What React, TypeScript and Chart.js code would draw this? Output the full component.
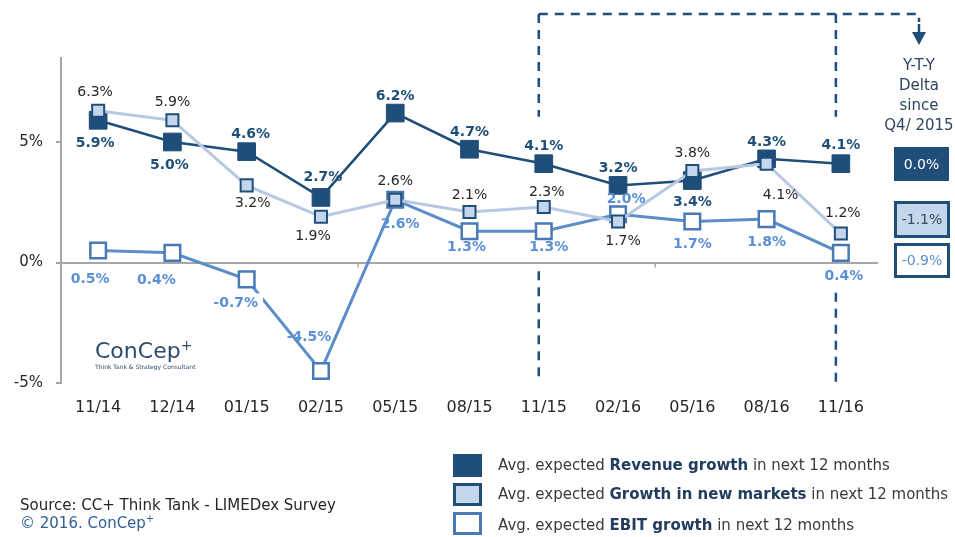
import React, { useEffect, useRef } from 'react';
import { Chart, registerables } from 'chart.js';

Chart.register(...registerables);

// ---------------- data ----------------
const categories = ['11/14', '12/14', '01/15', '02/15', '05/15', '08/15', '11/15', '02/16', '05/16', '08/16', '11/16'];
const revenueGrowth = [5.9, 5.0, 4.6, 2.7, 6.2, 4.7, 4.1, 3.2, 3.4, 4.3, 4.1];
const newMarketsGrowth = [6.3, 5.9, 3.2, 1.9, 2.6, 2.1, 2.3, 1.7, 3.8, 4.1, 1.2];
const ebitGrowth = [0.5, 0.4, -0.7, -4.5, 2.6, 1.3, 1.3, 2.0, 1.7, 1.8, 0.4];
const yTicks = [-5, 0, 5];
const deltaRevenue = '0.0%';
const deltaNewMarkets = '-1.1%';
const deltaEbit = '-0.9%';

// ---------------- label placement (styling) ----------------
const newMarketsLabelDy = [-18, -18, 18, 20, -18, -17, -15, 20, -18, 32, -20];
const newMarketsLabelDx = [-3, 0, 6, -8, 0, 0, 3, 5, 0, 14, 2];
const revenueLabelDy = [23, 23, -17, -20, -17, -17, -17, -17, 22, -17, -18];
const revenueLabelDx = [-3, -3, 4, 2, 0, 0, 0, 0, 0, 0, 0];
const ebitLabelDy = [29, 27, 24, -34, 25, 16, 16, -15, 23, 23, 23];
const ebitLabelDx = [-8, -16, -11, -12, 5, -3, 5, 8, 0, 0, 3];

const FONT = '"DejaVu Sans", sans-serif';
const NAVY = '#1F4E79';
const LIGHT_FILL = '#C5D6EC';
const LIGHT_LINE = '#B7C9E2';
const EBIT_LINE = '#5B8DC9';
const EBIT_BORDER = '#4A7AB5';
const EBIT_TEXT = '#5B8FD6';
const AXIS = '#A6A6A6';
const TEXT = '#262626';

const Y_MIN = -5;
const Y_MAX = 8.5;
const PX_PER_UNIT = 24.1;
const PLOT_BOTTOM = 383;
const PLOT_LEFT = 61;
const PLOT_RIGHT = 878;
const X_AXIS_H = 40;

export default function App() {
  const ref = useRef<HTMLCanvasElement>(null);

  useEffect(() => {
    const canvas = ref.current;
    if (!canvas) return;
    const plotTop = PLOT_BOTTOM - (Y_MAX - Y_MIN) * PX_PER_UNIT;

    const labelSpecs = [
      { dx: newMarketsLabelDx, dy: newMarketsLabelDy, font: `14px ${FONT}`, color: TEXT, bg: [] as number[] },
      { dx: revenueLabelDx, dy: revenueLabelDy, font: `bold 14px ${FONT}`, color: NAVY, bg: [] as number[] },
      { dx: ebitLabelDx, dy: ebitLabelDy, font: `bold 14px ${FONT}`, color: EBIT_TEXT, bg: [2] },
    ];

    const pointLabels = {
      id: 'pointLabels',
      afterDatasetsDraw(chart: any) {
        const ctx = chart.ctx;
        labelSpecs.forEach((spec, di) => {
          const meta = chart.getDatasetMeta(di);
          const data = chart.data.datasets[di].data as number[];
          meta.data.forEach((pt: any, j: number) => {
            const text = data[j].toFixed(1) + '%';
            const x = pt.x + spec.dx[j];
            const y = pt.y + spec.dy[j];
            ctx.save();
            ctx.font = spec.font;
            ctx.textAlign = 'center';
            ctx.textBaseline = 'middle';
            if (spec.bg.indexOf(j) >= 0) {
              const w = ctx.measureText(text).width;
              ctx.fillStyle = '#FFFFFF';
              ctx.fillRect(x - w / 2 - 5, y - 10, w + 10, 20);
            }
            ctx.fillStyle = spec.color;
            ctx.fillText(text, x, y);
            ctx.restore();
          });
        });
      },
    };

    const zeroTicks = {
      id: 'zeroTicks',
      beforeDatasetsDraw(chart: any) {
        const xs = chart.scales.x;
        const ys = chart.scales.y;
        const ctx = chart.ctx;
        const y0 = ys.getPixelForValue(0);
        ctx.save();
        ctx.strokeStyle = AXIS;
        ctx.lineWidth = 1.5;
        [4, 8].forEach((b) => {
          const x = (xs.getPixelForValue(b - 1) + xs.getPixelForValue(b)) / 2;
          ctx.beginPath();
          ctx.moveTo(x, y0);
          ctx.lineTo(x, y0 + 5);
          ctx.stroke();
        });
        ctx.restore();
      },
    };

    const yoyBracket = {
      id: 'yoyBracket',
      afterDraw(chart: any) {
        const xs = chart.scales.x;
        const ys = chart.scales.y;
        const ctx = chart.ctx;
        const topY = 14;
        const arrowX = 919;
        const idxs = [6, 10];
        ctx.save();
        ctx.strokeStyle = NAVY;
        ctx.lineWidth = 2.5;
        ctx.setLineDash([9, 7]);
        const xA = xs.getPixelForValue(idxs[0]) - 5;
        ctx.beginPath();
        ctx.moveTo(xA, topY);
        ctx.lineTo(arrowX, topY);
        ctx.lineTo(arrowX, topY + 8);
        ctx.stroke();
        idxs.forEach((i) => {
          const x = xs.getPixelForValue(i) - 5;
          const upperEnd = ys.getPixelForValue(revenueGrowth[i]) - 47;
          const lowerStart = ys.getPixelForValue(ebitGrowth[i]) + 40;
          ctx.beginPath();
          ctx.moveTo(x, topY);
          ctx.lineTo(x, upperEnd);
          ctx.stroke();
          ctx.beginPath();
          ctx.moveTo(x, lowerStart);
          ctx.lineTo(x, chart.chartArea.bottom);
          ctx.stroke();
        });
        ctx.setLineDash([]);
        ctx.beginPath();
        ctx.moveTo(arrowX, topY + 10);
        ctx.lineTo(arrowX, topY + 22);
        ctx.stroke();
        ctx.fillStyle = NAVY;
        ctx.beginPath();
        ctx.moveTo(arrowX - 7, topY + 18);
        ctx.lineTo(arrowX + 7, topY + 18);
        ctx.lineTo(arrowX, topY + 31);
        ctx.closePath();
        ctx.fill();
        ctx.restore();
      },
    };

    const chart = new Chart(canvas, {
      type: 'line',
      data: {
        labels: categories,
        datasets: [
          {
            label: 'Growth in new markets',
            data: newMarketsGrowth,
            borderColor: LIGHT_LINE,
            borderWidth: 3,
            pointStyle: 'rect',
            pointRadius: 8.5,
            pointHoverRadius: 8.5,
            pointBackgroundColor: LIGHT_FILL,
            pointBorderColor: NAVY,
            pointBorderWidth: 2,
            tension: 0,
            clip: false as any,
          },
          {
            label: 'Revenue growth',
            data: revenueGrowth,
            borderColor: NAVY,
            borderWidth: 2.5,
            pointStyle: 'rect',
            pointRadius: 12.5,
            pointHoverRadius: 12.5,
            pointBackgroundColor: NAVY,
            pointBorderColor: NAVY,
            pointBorderWidth: 1,
            tension: 0,
            clip: false as any,
          },
          {
            label: 'EBIT growth',
            data: ebitGrowth,
            borderColor: EBIT_LINE,
            borderWidth: 3,
            pointStyle: 'rect',
            pointRadius: 11,
            pointHoverRadius: 11,
            pointBackgroundColor: '#FFFFFF',
            pointBorderColor: EBIT_BORDER,
            pointBorderWidth: 2.5,
            tension: 0,
            clip: false as any,
          },
        ],
      },
      options: {
        responsive: false,
        animation: false,
        events: [],
        layout: {
          padding: {
            left: 0,
            right: 955 - PLOT_RIGHT,
            top: plotTop,
            bottom: 537 - PLOT_BOTTOM - X_AXIS_H,
          },
        },
        plugins: {
          legend: { display: false },
          tooltip: { enabled: false },
        },
        scales: {
          x: {
            type: 'category',
            offset: true,
            grid: { display: false, drawTicks: false },
            border: { display: false },
            ticks: {
              font: { family: FONT, size: 16 },
              color: TEXT,
              padding: 15,
              autoSkip: false,
              maxRotation: 0,
            },
            afterFit: (s: any) => {
              s.height = X_AXIS_H;
            },
          },
          y: {
            type: 'linear',
            min: Y_MIN,
            max: Y_MAX,
            afterBuildTicks: (s: any) => {
              s.ticks = yTicks.map((v) => ({ value: v }));
            },
            afterFit: (s: any) => {
              s.width = PLOT_LEFT;
            },
            ticks: {
              callback: (v: any) => v + '%',
              font: { family: FONT, size: 15 },
              color: TEXT,
              padding: 13,
            },
            grid: {
              color: (c: any) => (c.tick && c.tick.value === 0 ? AXIS : 'rgba(0,0,0,0)'),
              lineWidth: 2,
              drawTicks: true,
              tickLength: 5,
              tickColor: AXIS,
              tickWidth: 2,
            },
            border: { color: AXIS, width: 2 },
          },
        },
      },
      plugins: [zeroTicks, pointLabels, yoyBracket],
    });

    return () => chart.destroy();
  }, []);

  const abs = (o: React.CSSProperties): React.CSSProperties => ({ position: 'absolute', ...o });
  const legendText: React.CSSProperties = { fontFamily: FONT, fontSize: 15, color: '#3A3A3A', whiteSpace: 'nowrap', lineHeight: '18px' };
  const bold: React.CSSProperties = { fontWeight: 'bold', color: '#233D5E' };
  const sideText: React.CSSProperties = { fontFamily: FONT, fontSize: 15, color: '#2D4560', lineHeight: '20px', textAlign: 'center' };

  return (
    <div style={{ position: 'absolute', left: 0, top: 0, width: 955, height: 537, overflow: 'hidden', background: '#FFFFFF' }}>
      <canvas ref={ref} width={955} height={537} style={{ position: 'absolute', left: 0, top: 0, width: 955, height: 537 }} />

      {/* Y-T-Y annotation */}
      <div style={abs({ left: 879, top: 55, width: 80, ...sideText })}>
        <div>Y-T-Y</div>
        <div>Delta</div>
        <div>since</div>
        <div>Q4/ 2015</div>
      </div>

      <div style={abs({ left: 894, top: 147, width: 55, height: 34, background: NAVY, color: '#FFFFFF', fontFamily: FONT, fontSize: 14, lineHeight: '34px', textAlign: 'center' })}>{deltaRevenue}</div>
      <div style={abs({ left: 894, top: 201, width: 50, height: 31, border: `3px solid ${NAVY}`, background: LIGHT_FILL, color: '#3B4A5C', fontFamily: FONT, fontSize: 14, lineHeight: '31px', textAlign: 'center' })}>{deltaNewMarkets}</div>
      <div style={abs({ left: 894, top: 243, width: 50, height: 29, border: `3px solid ${NAVY}`, background: '#FFFFFF', color: EBIT_TEXT, fontFamily: FONT, fontSize: 14, lineHeight: '29px', textAlign: 'center' })}>{deltaEbit}</div>

      {/* Logo */}
      <div style={abs({ left: 95, top: 338, fontFamily: FONT, fontSize: 22, color: '#2C4A6E', lineHeight: '26px', whiteSpace: 'nowrap' })}>
        ConCep<sup style={{ fontSize: 14, verticalAlign: 'top', lineHeight: '14px' }}>+</sup>
      </div>
      <div style={abs({ left: 95, top: 363, fontFamily: FONT, fontSize: 6, color: '#2C4A6E', lineHeight: '8px', whiteSpace: 'nowrap' })}>
        Think Tank &amp; Strategy Consultant
      </div>

      {/* Legend */}
      <div style={abs({ left: 453, top: 454, width: 29, height: 23, background: NAVY })} />
      <div style={abs({ left: 453, top: 483, width: 23, height: 17, background: LIGHT_FILL, border: `3px solid ${NAVY}` })} />
      <div style={abs({ left: 453, top: 512, width: 23, height: 17, background: '#FFFFFF', border: `3px solid ${EBIT_BORDER}` })} />
      <div style={abs({ left: 498, top: 456, ...legendText })}>
        Avg. expected <span style={bold}>Revenue growth</span> in next 12 months
      </div>
      <div style={abs({ left: 498, top: 485, ...legendText })}>
        Avg. expected <span style={bold}>Growth in new markets</span> in next 12 months
      </div>
      <div style={abs({ left: 498, top: 516, ...legendText })}>
        Avg. expected <span style={bold}>EBIT growth</span> in next 12 months
      </div>

      {/* Source */}
      <div style={abs({ left: 20, top: 496, fontFamily: FONT, fontSize: 15, color: TEXT, lineHeight: '18px', whiteSpace: 'nowrap' })}>
        Source: CC+ Think Tank - LIMEDex Survey
      </div>
      <div style={abs({ left: 20, top: 514, fontFamily: FONT, fontSize: 15, color: '#2F5F93', lineHeight: '18px', whiteSpace: 'nowrap' })}>
        © 2016. ConCep<sup style={{ fontSize: 10, verticalAlign: 'top', lineHeight: '10px' }}>+</sup>
      </div>
    </div>
  );
}
